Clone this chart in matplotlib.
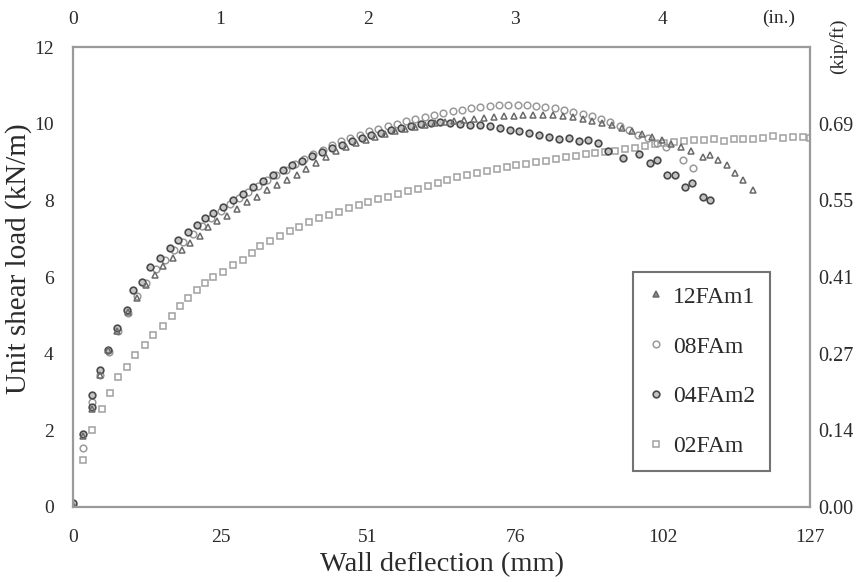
import matplotlib
matplotlib.use('Agg')
import matplotlib.pyplot as plt

plt.rcParams['font.family'] = ['Liberation Serif', 'DejaVu Serif']

# wall deflection (mm) / unit shear load (kN/m)
x_12fam1 = [0.0, 1.7, 3.3, 4.7, 6.0, 7.6, 9.5, 11.0, 12.6, 14.1, 15.5, 17.2, 18.8, 20.2, 21.9,
            23.3, 24.8, 26.5, 28.3, 30.0, 31.7, 33.4, 35.1, 36.8, 38.5, 40.2, 41.9, 43.6, 45.3,
            47.0, 48.7, 50.4, 52.1, 53.8, 55.5, 57.2, 58.9, 60.6, 62.3, 64.0, 65.7, 67.4, 69.1,
            70.8, 72.5, 74.2, 75.9, 77.6, 79.3, 81.0, 82.7, 84.4, 86.1, 87.8, 89.5, 91.2, 92.9,
            94.6, 96.3, 98.0, 99.7, 101.4, 103.1, 104.8, 106.5, 108.5, 109.8, 111.1, 112.7,
            114.1, 115.4, 117.2]
y_12fam1 = [0.05, 1.85, 2.55, 3.45, 4.1, 4.6, 5.1, 5.45, 5.8, 6.05, 6.3, 6.5, 6.7, 6.88, 7.08,
            7.3, 7.45, 7.6, 7.78, 7.95, 8.1, 8.27, 8.4, 8.52, 8.66, 8.82, 8.98, 9.14, 9.3,
            9.4, 9.5, 9.58, 9.66, 9.73, 9.8, 9.86, 9.92, 9.97, 10.01, 10.05, 10.08, 10.1, 10.13,
            10.15, 10.17, 10.19, 10.21, 10.22, 10.23, 10.23, 10.22, 10.2, 10.17, 10.13, 10.08,
            10.03, 9.97, 9.9, 9.82, 9.74, 9.65, 9.57, 9.48, 9.4, 9.3, 9.13, 9.18, 9.05, 8.92,
            8.71, 8.53, 8.27]

x_08fam = [0.0, 1.7, 3.3, 4.7, 6.2, 7.8, 9.4, 11.0, 12.6, 14.2, 15.8, 17.4, 19.0, 20.6, 22.2,
           23.8, 25.4, 27.0, 28.6, 30.2, 31.8, 33.4, 35.0, 36.6, 38.2, 39.8, 41.4, 43.0, 44.6,
           46.2, 47.8, 49.4, 51.0, 52.6, 54.2, 55.8, 57.4, 59.0, 60.6, 62.2, 63.8, 65.4, 67.0,
           68.6, 70.2, 71.8, 73.4, 75.0, 76.6, 78.2, 79.8, 81.4, 83.0, 84.6, 86.2, 87.8, 89.4,
           91.0, 92.6, 94.2, 95.8, 97.4, 99.0, 100.6, 102.2, 105.1, 106.8]
y_08fam = [0.05, 1.54, 2.75, 3.45, 4.05, 4.6, 5.05, 5.5, 5.85, 6.2, 6.45, 6.7, 6.92, 7.12, 7.34,
           7.55, 7.72, 7.9, 8.06, 8.22, 8.38, 8.52, 8.66, 8.8, 8.94, 9.07, 9.2, 9.32, 9.44,
           9.55, 9.64, 9.72, 9.8, 9.87, 9.94, 10.0, 10.06, 10.12, 10.18, 10.23, 10.28, 10.33, 10.37,
           10.41, 10.44, 10.46, 10.48, 10.49, 10.49, 10.48, 10.46, 10.44, 10.41, 10.37, 10.32,
           10.26, 10.2, 10.12, 10.04, 9.95, 9.84, 9.72, 9.62, 9.5, 9.4, 9.05, 8.84]

x_04fam2 = [0.0, 1.7, 3.3, 3.3, 4.7, 6.0, 7.6, 9.3, 10.3, 11.9, 13.3, 15.0, 16.7, 18.1, 19.8,
            21.4, 22.7, 24.1, 25.8, 27.6, 29.3, 31.0, 32.7, 34.4, 36.1, 37.8, 39.5, 41.2, 42.9,
            44.6, 46.3, 48.0, 49.7, 51.4, 53.1, 54.8, 56.5, 58.2, 59.9, 61.6, 63.3, 65.0, 66.7,
            68.4, 70.1, 71.8, 73.5, 75.2, 76.9, 78.6, 80.3, 82.0, 83.7, 85.4, 87.1, 88.8, 90.5,
            92.2, 94.8, 97.5, 99.4, 100.6, 102.3, 103.7, 105.4, 106.7, 108.5, 109.8]
y_04fam2 = [0.1, 1.9, 2.62, 2.92, 3.57, 4.1, 4.67, 5.14, 5.66, 5.87, 6.26, 6.5, 6.76, 6.97, 7.17,
            7.36, 7.55, 7.67, 7.83, 8.0, 8.17, 8.34, 8.5, 8.65, 8.79, 8.92, 9.04, 9.15, 9.26,
            9.36, 9.45, 9.54, 9.62, 9.7, 9.77, 9.84, 9.9, 9.95, 10.0, 10.03, 10.04, 10.03, 10.0,
            9.98, 9.96, 9.93, 9.89, 9.85, 9.81, 9.76, 9.7, 9.65, 9.6, 9.62, 9.55, 9.58, 9.5,
            9.3, 9.1, 9.2, 8.97, 9.05, 8.66, 8.66, 8.35, 8.45, 8.09, 8.0]

x_02fam = [0.0, 1.7, 3.3, 5.0, 6.4, 7.8, 9.3, 10.7, 12.4, 13.8, 15.5, 17.1, 18.4, 19.8, 21.4,
           22.7, 24.1, 25.8, 27.6, 29.2, 30.8, 32.2, 33.9, 35.6, 37.3, 39.0, 40.7, 42.4, 44.1,
           45.8, 47.5, 49.2, 50.9, 52.6, 54.3, 56.0, 57.7, 59.4, 61.1, 62.8, 64.5, 66.2, 67.9,
           69.6, 71.3, 73.0, 74.7, 76.4, 78.1, 79.8, 81.5, 83.2, 84.9, 86.6, 88.3, 90.0, 91.7,
           93.4, 95.1, 96.8, 98.5, 100.2, 101.9, 103.6, 105.3, 107.0, 108.7, 110.4, 112.1,
           113.8, 115.5, 117.2, 118.9, 120.6, 122.3, 124.0, 125.7, 127.0]
y_02fam = [0.0, 1.23, 2.0, 2.56, 2.97, 3.39, 3.66, 3.97, 4.23, 4.49, 4.72, 4.98, 5.24, 5.45, 5.66,
           5.84, 6.0, 6.13, 6.31, 6.44, 6.63, 6.8, 6.93, 7.06, 7.19, 7.31, 7.43, 7.54, 7.62,
           7.71, 7.8, 7.88, 7.96, 8.03, 8.1, 8.17, 8.24, 8.31, 8.38, 8.45, 8.52, 8.6, 8.66,
           8.72, 8.77, 8.82, 8.87, 8.92, 8.96, 9.0, 9.04, 9.08, 9.12, 9.15, 9.2, 9.24, 9.27,
           9.3, 9.33, 9.38, 9.43, 9.47, 9.5, 9.53, 9.56, 9.57, 9.58, 9.6, 9.56,
           9.6, 9.61, 9.6, 9.64, 9.68, 9.63, 9.66, 9.65, 9.64]

mm_ticks = [0, 25.4, 50.8, 76.2, 101.6, 127.0]
mm_labels = ['0', '25', '51', '76', '102', '127']
in_ticks = [0, 25.4, 50.8, 76.2, 101.6]
in_labels = ['0', '1', '2', '3', '4']
kn_ticks = [0, 2, 4, 6, 8, 10, 12]
kip_ticks = [0, 2, 4, 6, 8, 10]
kip_labels = ['0.00', '0.14', '0.27', '0.41', '0.55', '0.69']

txt = '#2b2b2b'
fig = plt.figure(figsize=(8.6, 5.82), dpi=100)
ax = fig.add_axes([0.085, 0.129, 0.857, 0.790])

ax.plot(x_02fam, y_02fam, ls='none', marker='s', ms=4.4, mfc='none', mec='#a0a0a0', mew=1.1,
        label='02FAm')
ax.plot(x_08fam, y_08fam, ls='none', marker='o', ms=4.8, mfc='none', mec='#9a9a9a', mew=1.1,
        label='08FAm')
ax.plot(x_04fam2, y_04fam2, ls='none', marker='o', ms=4.8, mfc='#c4c4c4', mec='#4a4a4a', mew=1.2,
        label='04FAm2')
ax.plot(x_12fam1, y_12fam1, ls='none', marker='^', ms=4.8, mfc='none', mec='#6a6a6a', mew=1.1,
        label='12FAm1')

ax.set_xlim(0, 127)
ax.set_ylim(0, 12)
for s in ax.spines.values():
    s.set_color('#9a9a9a')
    s.set_linewidth(1.6)
ax.set_xticks(mm_ticks)
ax.set_xticklabels(mm_labels)
ax.set_yticks(kn_ticks)
ax.tick_params(length=0, labelsize=14, colors=txt)
ax.tick_params(axis='x', pad=16)
ax.tick_params(axis='y', pad=14)
ax.set_xlabel('Wall deflection (mm)', fontsize=20.5, color=txt, labelpad=4)
ax.set_ylabel('Unit shear load (kN/m)', fontsize=21, color=txt)
ax.yaxis.set_label_coords(-0.056, 0.54)

ax2 = ax.twinx()
ax2.set_ylim(0, 12)
ax2.set_yticks(kip_ticks)
ax2.set_yticklabels(kip_labels)
ax2.tick_params(length=0, labelsize=14.5, colors=txt, pad=6)
for s in ax2.spines.values():
    s.set_visible(False)

ax3 = ax.twiny()
ax3.set_xlim(0, 127)
ax3.set_xticks(in_ticks)
ax3.set_xticklabels(in_labels)
ax3.tick_params(length=0, labelsize=14, colors=txt, pad=14)
for s in ax3.spines.values():
    s.set_visible(False)
ax.text(0.957, 1.063, '(in.)', transform=ax.transAxes, ha='center', va='center',
        fontsize=14, color=txt)
fig.text(0.975, 0.92, '(kip/ft)', rotation=90, ha='center', va='center', fontsize=14, color=txt)

handles, labels = ax.get_legend_handles_labels()
order = [3, 1, 2, 0]
leg = ax.legend([handles[i] for i in order], [labels[i] for i in order],
                loc='upper left', bbox_to_anchor=(0.76, 0.511), borderaxespad=0,
                fontsize=17, frameon=True, fancybox=False, edgecolor='#505050',
                labelspacing=1.2, handlelength=0.7, handletextpad=0.4, borderpad=0.6)
leg.get_frame().set_linewidth(1.5)
for t in leg.get_texts():
    t.set_color(txt)
leg.legend_handles[0].set_markerfacecolor('#8a8a8a')

fig.savefig('out.png', dpi=100, facecolor='white')
